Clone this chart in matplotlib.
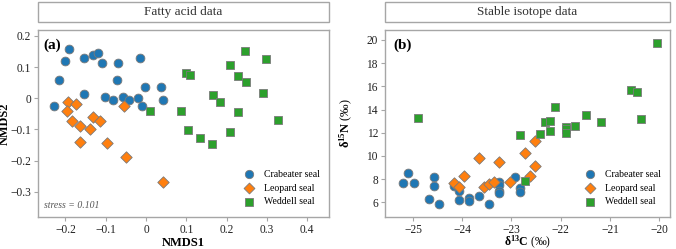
import matplotlib.pyplot as plt
from matplotlib.patches import Rectangle

plt.rcParams['font.family'] = ['Liberation Serif', 'DejaVu Serif']
plt.rcParams['mathtext.fontset'] = 'custom'
plt.rcParams['mathtext.rm'] = 'Liberation Serif'
plt.rcParams['mathtext.bf'] = 'Liberation Serif:bold'
plt.rcParams['mathtext.it'] = 'Liberation Serif:italic'

# --- (a) fatty acid NMDS ---
crab_fa_x = [-0.228, -0.215, -0.200, -0.190, -0.155, -0.154, -0.131, -0.118, -0.109, -0.101, -0.083,
             -0.072, -0.069, -0.057, -0.041, -0.019, -0.015, -0.010, -0.003, 0.036, 0.041]
crab_fa_y = [-0.025, 0.058, 0.120, 0.157, 0.128, 0.013, 0.139, 0.146, 0.114, 0.005, -0.006,
             0.057, 0.112, 0.004, -0.006, 0.002, 0.128, -0.025, 0.036, 0.036, -0.006]
leop_fa_x = [-0.193, -0.174, -0.195, -0.184, -0.165, -0.131, -0.115, -0.139, -0.165, -0.096,
             -0.054, -0.050, 0.042]
leop_fa_y = [-0.012, -0.020, -0.041, -0.073, -0.088, -0.059, -0.073, -0.099, -0.140, -0.144,
             -0.025, -0.187, -0.268]
wedd_fa_x = [0.009, 0.088, 0.098, 0.110, 0.103, 0.135, 0.164, 0.167, 0.183, 0.208, 0.208,
             0.228, 0.229, 0.249, 0.245, 0.291, 0.297, 0.327]
wedd_fa_y = [-0.040, -0.042, 0.082, 0.075, -0.103, -0.128, -0.146, 0.012, -0.011, 0.107, -0.108,
             0.071, -0.045, 0.052, 0.152, 0.018, 0.125, -0.071]

fa_xticks = [-0.2, -0.1, 0, 0.1, 0.2, 0.3, 0.4]
fa_xlabels = ['\u22120.2', '\u22120.1', '0', '0.1', '0.2', '0.3', '0.4']
fa_yticks = [-0.3, -0.2, -0.1, 0, 0.1, 0.2]
fa_ylabels = ['\u22120.3', '\u22120.2', '\u22120.1', '0', '0.1', '0.2']

# --- (b) stable isotopes ---
crab_c = [-25.20, -25.10, -24.99, -24.68, -24.58, -24.58, -24.47, -24.17, -24.07, -24.07, -23.86,
          -23.86, -23.65, -23.45, -23.25, -23.25, -23.25, -23.25, -22.93, -22.83, -22.83]
crab_n = [7.64, 8.53, 7.64, 6.26, 8.21, 7.44, 5.83, 7.44, 7.00, 6.20, 6.40,
          6.12, 6.52, 5.83, 7.75, 7.45, 6.95, 6.80, 8.21, 7.25, 6.90]
leop_c = [-24.17, -24.07, -23.96, -23.65, -23.55, -23.45, -23.35, -23.25, -23.04, -22.73,
          -22.63, -22.52, -22.52]
leop_n = [7.64, 7.35, 8.30, 9.82, 7.30, 7.55, 7.73, 9.51, 7.73, 10.23, 8.30, 9.13, 11.32]
wedd_c = [-24.89, -22.83, -22.73, -22.42, -22.32, -22.22, -22.22, -22.11, -21.90, -21.90, -21.90,
          -21.70, -21.49, -21.19, -20.57, -20.46, -20.36, -20.05]
wedd_n = [13.30, 11.81, 7.81, 11.89, 12.93, 13.02, 12.12, 14.22, 12.53, 12.30, 12.01,
          12.61, 13.53, 12.93, 15.72, 15.52, 13.22, 19.71]

si_xticks = [-25, -24, -23, -22, -21, -20]
si_xlabels = ['\u221225', '\u221224', '\u221223', '\u221222', '\u221221', '\u221220']
si_yticks = [6, 8, 10, 12, 14, 16, 18, 20]

species = ['Crabeater seal', 'Leopard seal', 'Weddell seal']
colors = ['#1f77b4', '#ff7f0e', '#2ca02c']
markers = ['o', 'D', 's']
sizes = [40, 34, 38]

fig = plt.figure(figsize=(6.76, 2.49), dpi=100)
ax1 = fig.add_axes([0.0562, 0.1285, 0.4305, 0.751])
ax2 = fig.add_axes([0.5695, 0.1285, 0.4216, 0.751])

spine_col = '#a6a6a6'


def style(ax, title):
    for s in ax.spines.values():
        s.set_color(spine_col)
        s.set_linewidth(1.0)
    ax.tick_params(axis='both', length=3, width=0.8, color=spine_col,
                   labelsize=8.3, labelcolor='#222222', pad=2)
    ax.add_patch(Rectangle((0, 1.043), 1, 0.107, transform=ax.transAxes,
                           facecolor='white', edgecolor=spine_col, lw=1.0, clip_on=False))
    ax.text(0.5, 1.0965, title, transform=ax.transAxes, ha='center', va='center',
            fontsize=9.5, color='#333333')
    ax.legend(loc='lower right', bbox_to_anchor=(1.0, 0.01), frameon=False, fontsize=7,
              handletextpad=0.6, labelspacing=0.5, borderaxespad=0.5, markerscale=0.95)


datasets1 = [(crab_fa_x, crab_fa_y), (leop_fa_x, leop_fa_y), (wedd_fa_x, wedd_fa_y)]
for (x, y), lab, c, m, s in zip(datasets1, species, colors, markers, sizes):
    ax1.scatter(x, y, s=s, c=c, marker=m, edgecolors='#7a7a7a', linewidths=0.6, label=lab, zorder=3)
ax1.set_xlim(-0.268, 0.454)
ax1.set_ylim(-0.381, 0.219)
ax1.set_xticks(fa_xticks, fa_xlabels)
ax1.set_yticks(fa_yticks, fa_ylabels)
ax1.set_xlabel('NMDS1', fontsize=9, fontweight='bold')
ax1.set_ylabel('NMDS2', fontsize=8.8, fontweight='bold')
ax1.yaxis.set_label_coords(-0.093, 0.5)
ax1.xaxis.set_label_coords(0.5, -0.105)
ax1.text(0.02, 0.955, '(a)', transform=ax1.transAxes, fontsize=11, fontweight='bold', va='top')
ax1.text(0.02, 0.06, 'stress = 0.101', transform=ax1.transAxes, fontsize=7,
         style='italic', color='#555555', va='center')
style(ax1, 'Fatty acid data')

datasets2 = [(crab_c, crab_n), (leop_c, leop_n), (wedd_c, wedd_n)]
for (x, y), lab, c, m, s in zip(datasets2, species, colors, markers, sizes):
    ax2.scatter(x, y, s=s, c=c, marker=m, edgecolors='#7a7a7a', linewidths=0.6, label=lab, zorder=3)
ax2.set_xlim(-25.57, -19.78)
ax2.set_ylim(4.73, 20.86)
ax2.set_xticks(si_xticks, si_xlabels)
ax2.set_yticks(si_yticks)
ax2.set_xlabel('$\\mathbf{\\delta^{13}C}$ (\u2030)', fontsize=8.5)
ax2.set_ylabel('$\\mathbf{\\delta^{15}N}$ (\u2030)', fontsize=9)
ax2.yaxis.set_label_coords(-0.105, 0.5)
ax2.xaxis.set_label_coords(0.5, -0.092)
ax2.text(0.03, 0.955, '(b)', transform=ax2.transAxes, fontsize=11, fontweight='bold', va='top')
style(ax2, 'Stable isotope data')

fig.savefig('out.png', dpi=100)
